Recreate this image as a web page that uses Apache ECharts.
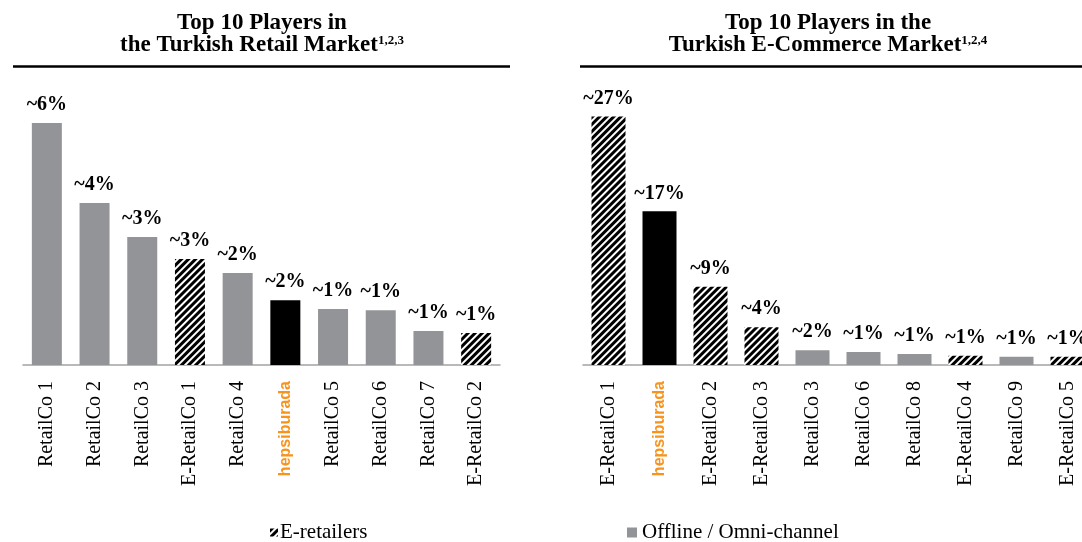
<!DOCTYPE html>
<html>
<head>
<meta charset="utf-8">
<script src="https://cdn.jsdelivr.net/npm/echarts@6/dist/echarts.min.js"></script>
<style>
  html, body { margin: 0; padding: 0; background: #fff; }
  #main { width: 1082px; height: 542px; }
</style>
</head>
<body>
<div id="main"></div>
<script type="text/javascript">
// left panel: retail market
var retailCats = ['RetailCo 1', 'RetailCo 2', 'RetailCo 3', 'E-RetailCo 1', 'RetailCo 4', 'hepsiburada', 'RetailCo 5', 'RetailCo 6', 'RetailCo 7', 'E-RetailCo 2'];
var retailShare = [6.05, 4.05, 3.2, 2.65, 2.3, 1.62, 1.4, 1.37, 0.85, 0.8];
var retailLabels = ['~6%', '~4%', '~3%', '~3%', '~2%', '~2%', '~1%', '~1%', '~1%', '~1%'];
var retailType = ['off', 'off', 'off', 'e', 'off', 'hb', 'off', 'off', 'off', 'e'];

// right panel: e-commerce market
var ecomCats = ['E-RetailCo 1', 'hepsiburada', 'E-RetailCo 2', 'E-RetailCo 3', 'RetailCo 3', 'RetailCo 6', 'RetailCo 8', 'E-RetailCo 4', 'RetailCo 9', 'E-RetailCo 5'];
var ecomShare = [27, 16.7, 8.5, 4.1, 1.6, 1.4, 1.2, 1.0, 0.9, 0.9];
var ecomLabels = ['~27%', '~17%', '~9%', '~4%', '~2%', '~1%', '~1%', '~1%', '~1%', '~1%'];
var ecomType = ['e', 'hb', 'e', 'e', 'off', 'off', 'off', 'e', 'off', 'e'];

var serif = "'Liberation Serif', 'Times New Roman', serif";
var GRAY = '#939497';
var ORANGE = '#F7941D';

var hatch = {
    symbol: 'rect',
    color: '#000',
    backgroundColor: '#fff',
    dashArrayX: [1, 0],
    dashArrayY: [2.2, 2],
    rotation: -Math.PI / 4
};

var chart = echarts.init(document.getElementById('main'));

// pick the values of one type, null elsewhere
function pick(values, types, t) {
    var out = [];
    for (var i = 0; i < values.length; i++) {
        out.push(types[i] === t ? values[i] : null);
    }
    return out;
}

function makeSeries(values, types, labels, axis, width) {
    var lbl = {
        show: true,
        position: 'top',
        distance: 8,
        fontFamily: serif,
        fontWeight: 'bold',
        fontSize: 20,
        color: '#000',
        formatter: function (p) { return labels[p.dataIndex]; }
    };
    return [
        {
            name: 'Offline / Omni-channel', type: 'bar', stack: 's' + axis,
            xAxisIndex: axis, yAxisIndex: axis, barWidth: width,
            data: pick(values, types, 'off'),
            itemStyle: { color: GRAY },
            label: lbl
        },
        {
            name: 'E-retailers', type: 'bar', stack: 's' + axis,
            xAxisIndex: axis, yAxisIndex: axis, barWidth: width,
            data: pick(values, types, 'e'),
            itemStyle: { color: '#fff', decal: hatch },
            label: lbl
        },
        {
            name: 'hepsiburada', type: 'bar', stack: 's' + axis,
            xAxisIndex: axis, yAxisIndex: axis, barWidth: width,
            data: pick(values, types, 'hb'),
            itemStyle: { color: '#000' },
            label: lbl
        }
    ];
}

function catAxis(cats, idx) {
    return {
        type: 'category',
        gridIndex: idx,
        data: cats,
        axisTick: { show: false },
        axisLine: { lineStyle: { color: '#a3a3a3', width: 1.5 } },
        axisLabel: {
            interval: 0,
            rotate: 90,
            margin: 16,
            fontFamily: serif,
            fontSize: 20,
            color: '#000',
            formatter: function (v) {
                return v === 'hepsiburada' ? '{hb|' + v + '}' : v;
            },
            rich: {
                hb: {
                    fontFamily: "'Liberation Sans', Arial, sans-serif",
                    fontWeight: 'bold',
                    fontSize: 16,
                    color: ORANGE
                }
            }
        }
    };
}

var titleRich = {
    m: { fontFamily: serif, fontWeight: 'bold', fontSize: 23, lineHeight: 22, color: '#000' },
    sup: { fontFamily: serif, fontWeight: 'bold', fontSize: 13, lineHeight: 22, verticalAlign: 'top', color: '#000' }
};

var options = {
    backgroundColor: '#fff',
    animation: false,
    title: [
        {
            text: '{m|Top 10 Players in}\n{m|the Turkish Retail Market}{sup|1,2,3}',
            left: 262, top: 12, textAlign: 'center', padding: 0,
            textStyle: { rich: titleRich }
        },
        {
            text: '{m|Top 10 Players in the}\n{m|Turkish E-Commerce Market}{sup|1,2,4}',
            left: 828, top: 12, textAlign: 'center', padding: 0,
            textStyle: { rich: titleRich }
        }
    ],
    graphic: [
        { type: 'line', shape: { x1: 13, y1: 66.5, x2: 510, y2: 66.5 }, style: { stroke: '#000', lineWidth: 2.5 } },
        { type: 'line', shape: { x1: 580, y1: 66.5, x2: 1082, y2: 66.5 }, style: { stroke: '#000', lineWidth: 2.5 } }
    ],
    legend: [
        {
            data: ['E-retailers'], left: 270, top: 522, padding: 0,
            icon: 'rect', itemWidth: 8, itemHeight: 8, itemGap: 4,
            selectedMode: false,
            textStyle: { fontFamily: serif, fontSize: 21, color: '#000', padding: [0, 0, 0, -3] }
        },
        {
            data: ['Offline / Omni-channel'], left: 627, top: 522, padding: 0,
            icon: 'rect', itemWidth: 10, itemHeight: 10,
            selectedMode: false,
            textStyle: { fontFamily: serif, fontSize: 21, color: '#000' }
        }
    ],
    grid: [
        { left: 23, width: 477, top: 89, bottom: 177, containLabel: false, outerBoundsMode: 'none' },
        { left: 583, width: 510, top: 89, bottom: 177, containLabel: false, outerBoundsMode: 'none' }
    ],
    xAxis: [catAxis(retailCats, 0), catAxis(ecomCats, 1)],
    yAxis: [
        { type: 'value', gridIndex: 0, min: 0, max: 6.9, show: false },
        { type: 'value', gridIndex: 1, min: 0, max: 30, show: false }
    ],
    series: makeSeries(retailShare, retailType, retailLabels, 0, 30)
        .concat(makeSeries(ecomShare, ecomType, ecomLabels, 1, 34))
};

chart.setOption(options);
</script>
</body>
</html>
